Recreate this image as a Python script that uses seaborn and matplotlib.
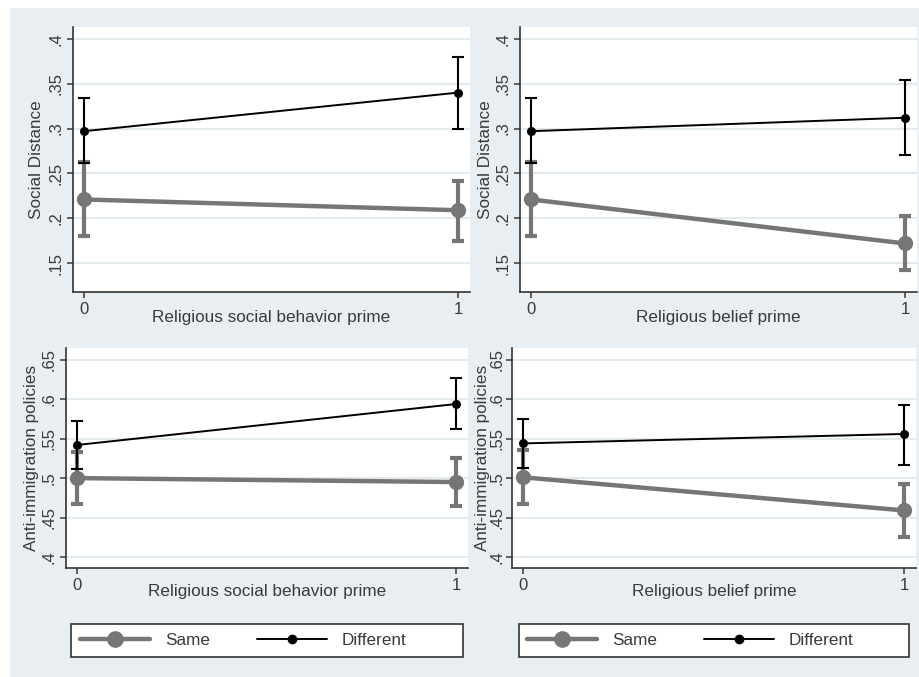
import numpy as np
import pandas as pd
import matplotlib
matplotlib.use("Agg")
import matplotlib.pyplot as plt
from matplotlib.patches import Rectangle
from matplotlib.lines import Line2D
import seaborn as sns

# ---- data ----
prime = [0, 1]
groups = ["Same", "Different"]

sd_behavior_same = [0.221, 0.209]
sd_behavior_same_lo = [0.180, 0.175]
sd_behavior_same_hi = [0.263, 0.242]
sd_behavior_diff = [0.297, 0.340]
sd_behavior_diff_lo = [0.262, 0.300]
sd_behavior_diff_hi = [0.334, 0.380]

sd_belief_same = [0.221, 0.172]
sd_belief_same_lo = [0.180, 0.143]
sd_belief_same_hi = [0.263, 0.203]
sd_belief_diff = [0.297, 0.312]
sd_belief_diff_lo = [0.262, 0.270]
sd_belief_diff_hi = [0.334, 0.354]

ai_behavior_same = [0.500, 0.495]
ai_behavior_same_lo = [0.467, 0.465]
ai_behavior_same_hi = [0.533, 0.526]
ai_behavior_diff = [0.542, 0.594]
ai_behavior_diff_lo = [0.511, 0.562]
ai_behavior_diff_hi = [0.573, 0.627]

ai_belief_same = [0.501, 0.459]
ai_belief_same_lo = [0.467, 0.425]
ai_belief_same_hi = [0.536, 0.493]
ai_belief_diff = [0.544, 0.556]
ai_belief_diff_lo = [0.513, 0.517]
ai_belief_diff_hi = [0.575, 0.593]

sd_ticks = [0.15, 0.2, 0.25, 0.3, 0.35, 0.4]
sd_ticklabels = [".15", ".2", ".25", ".3", ".35", ".4"]
ai_ticks = [0.4, 0.45, 0.5, 0.55, 0.6, 0.65]
ai_ticklabels = [".4", ".45", ".5", ".55", ".6", ".65"]

# ---- style ----
sns.set_style("white")
plt.rcParams["font.family"] = ["Liberation Sans", "DejaVu Sans"]
TXT = "#3a3a3a"
GRAY = "#767676"
BG = "#E8EEF1"
GRID = "#E3EBEE"

W, H = 920, 677
fig = plt.figure(figsize=(W / 100, H / 100), dpi=100, facecolor="white")
fig.add_artist(Rectangle((10 / W, 0), 910 / W, 669 / H, transform=fig.transFigure,
                         facecolor=BG, edgecolor="none", zorder=-10))


def px_axes(x0, x1, y0, y1):
    return fig.add_axes([x0 / W, (H - y1) / H, (x1 - x0) / W, (y1 - y0) / H])


def panel(ax, same, same_lo, same_hi, diff, diff_lo, diff_hi, ylim, ticks, ticklabels,
          ylabel, xlabel, ylab_x, xlab_y, ypad=3):
    df = pd.DataFrame({
        "prime": prime * 2,
        "value": same + diff,
        "lo": same_lo + diff_lo,
        "hi": same_hi + diff_hi,
        "group": [groups[0]] * 2 + [groups[1]] * 2,
    })
    ax.set_facecolor("white")
    for t in ticks:
        ax.axhline(t, color=GRID, lw=1.5, zorder=0)
    styles = {"Same": dict(color=GRAY, lw=3.2, ms=11, elw=3.0, cap=4.0, z=3),
              "Different": dict(color="black", lw=1.4, ms=6.5, elw=1.5, cap=4.0, z=4)}
    for g in groups:
        sub = df[df["group"] == g]
        st = styles[g]
        ax.errorbar(sub["prime"], sub["value"],
                    yerr=[sub["value"] - sub["lo"], sub["hi"] - sub["value"]],
                    fmt="none", ecolor=st["color"], elinewidth=st["elw"],
                    capsize=st["cap"], capthick=st["elw"], zorder=st["z"])
        sns.lineplot(data=sub, x="prime", y="value", ax=ax, color=st["color"],
                     lw=st["lw"], marker="o", markersize=st["ms"],
                     markeredgewidth=0, errorbar=None, zorder=st["z"] + 0.5)
    ax.set_xlim(-0.029, 1.031)
    ax.set_ylim(*ylim)
    ax.set_xticks([0, 1])
    ax.set_xticklabels(["0", "1"])
    ax.set_yticks(ticks)
    ax.set_yticklabels(ticklabels, rotation=90, va="center")
    ax.tick_params(axis="both", direction="out", length=4, width=1.1, color=TXT,
                   labelcolor=TXT, labelsize=12, pad=3, left=True, bottom=True)
    ax.tick_params(axis="y", pad=ypad)
    for s in ["top", "right"]:
        ax.spines[s].set_visible(False)
    for s in ["left", "bottom"]:
        ax.spines[s].set_color("#333333")
        ax.spines[s].set_linewidth(1.2)
    ax.set_ylabel(ylabel, fontsize=12.3, color=TXT, va="center")
    ax.yaxis.set_label_coords(ylab_x, 0.5)
    ax.set_xlabel(xlabel, fontsize=12.3, color=TXT, va="center")
    ax.xaxis.set_label_coords(0.5, xlab_y)
    leg = ax.get_legend()
    if leg is not None:
        leg.remove()


ax1 = px_axes(73, 470, 27, 292)
panel(ax1, sd_behavior_same, sd_behavior_same_lo, sd_behavior_same_hi,
      sd_behavior_diff, sd_behavior_diff_lo, sd_behavior_diff_hi,
      (0.118, 0.413), sd_ticks, sd_ticklabels, "Social Distance",
      "Religious social behavior prime", -0.091, -0.098)

ax2 = px_axes(520, 917, 27, 292)
panel(ax2, sd_belief_same, sd_belief_same_lo, sd_belief_same_hi,
      sd_belief_diff, sd_belief_diff_lo, sd_belief_diff_hi,
      (0.118, 0.413), sd_ticks, sd_ticklabels, "Social Distance",
      "Religious belief prime", -0.088, -0.098)

ax3 = px_axes(66, 468, 348, 568)
panel(ax3, ai_behavior_same, ai_behavior_same_lo, ai_behavior_same_hi,
      ai_behavior_diff, ai_behavior_diff_lo, ai_behavior_diff_hi,
      (0.386, 0.665), ai_ticks, ai_ticklabels, "Anti-immigration policies",
      "Religious social behavior prime", -0.085, -0.108)

ax4 = px_axes(512, 916, 348, 568)
panel(ax4, ai_belief_same, ai_belief_same_lo, ai_belief_same_hi,
      ai_belief_diff, ai_belief_diff_lo, ai_belief_diff_hi,
      (0.386, 0.665), ai_ticks, ai_ticklabels, "Anti-immigration policies",
      "Religious belief prime", -0.072, -0.108, ypad=1.5)

# ---- legends (one under each bottom panel) ----
handles = [Line2D([], [], color=GRAY, lw=3.2, marker="o", ms=12, mew=0),
           Line2D([], [], color="black", lw=1.4, marker="o", ms=7, mew=0)]
for bx0, bx1, hx in [(71, 463, 80), (519, 909, 527)]:
    fig.add_artist(Rectangle((bx0 / W, (H - 657) / H), (bx1 - bx0) / W, 33 / H,
                             transform=fig.transFigure, facecolor="white",
                             edgecolor="#333333", lw=1.2, zorder=1))
    leg = fig.legend(handles, groups, loc="center left",
                     bbox_to_anchor=(hx / W, (H - 640.5) / H), ncol=2,
                     frameon=False, fontsize=12.3, handlelength=4.1,
                     handletextpad=0.9, columnspacing=2.7, borderpad=0,
                     borderaxespad=0)
    for t in leg.get_texts():
        t.set_color(TXT)
    leg.set_zorder(2)

fig.savefig("out.png", dpi=100, facecolor="white")
